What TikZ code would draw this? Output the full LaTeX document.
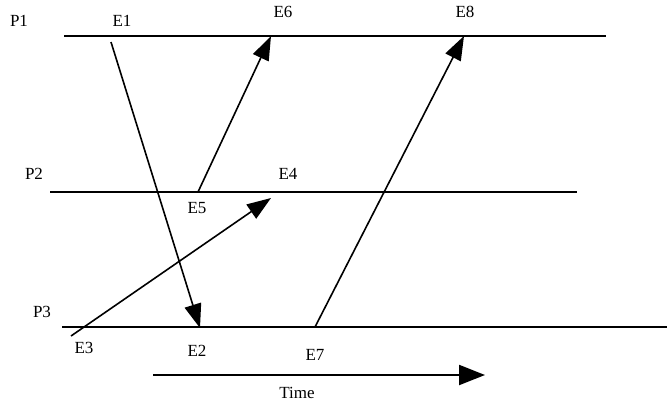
\documentclass[tikz,border=0pt]{standalone}
\usepackage{fontspec}
\setmainfont{Liberation Serif}
\usetikzlibrary{arrows.meta}

\begin{document}
\begin{tikzpicture}[
    x=1pt, y=-1pt,
    proc/.style={line width=2.4pt, black},
    msg/.style={-{Triangle[length=24pt, width=17pt]}, line width=1.6pt, black},
    lbl/.style={font=\fontsize{17}{20}\selectfont, inner sep=0pt},
]
    \useasboundingbox (0,0) rectangle (667,408);

    % process lines
    \coordinate (p1s) at (64,36);  \coordinate (p1e) at (606,36);
    \coordinate (p2s) at (50,192); \coordinate (p2e) at (577,192);
    \coordinate (p3s) at (62,327); \coordinate (p3e) at (667,327);
    \draw[proc] (p1s) -- (p1e);
    \draw[proc] (p2s) -- (p2e);
    \draw[proc] (p3s) -- (p3e);

    \node[lbl] (p1) at (19,21) {P1};
    \node[lbl] (p2) at (34,174) {P2};
    \node[lbl] (p3) at (42,312) {P3};

    % events
    \coordinate (e1) at (111,42);
    \coordinate (e2) at (200,328);
    \coordinate (e3) at (71,336);
    \coordinate (e4) at (271,198);
    \coordinate (e5) at (198,192);
    \coordinate (e6) at (271,36);
    \coordinate (e7) at (315,327);
    \coordinate (e8) at (464,36);

    \node[lbl] (e1l) at (122,21) {E1};
    \node[lbl] (e2l) at (197,351) {E2};
    \node[lbl] (e3l) at (84,348) {E3};
    \node[lbl] (e4l) at (288,174) {E4};
    \node[lbl] (e5l) at (197,208) {E5};
    \node[lbl] (e6l) at (283,12) {E6};
    \node[lbl] (e7l) at (315,355) {E7};
    \node[lbl] (e8l) at (465,12) {E8};

    % messages
    \draw[msg] (e1) -- (e2);
    \draw[msg] (e3) -- (e4);
    \draw[msg] (e5) -- (e6);
    \draw[msg] (e7) -- (e8);

    % time axis
    \coordinate (t0) at (153,375);
    \coordinate (t1) at (485,375);
    \draw[msg, line width=2.2pt, -{Triangle[length=26pt, width=20pt]}] (t0) -- (t1);
    \node[lbl] (time) at (297,393) {Time};
\end{tikzpicture}
\end{document}
